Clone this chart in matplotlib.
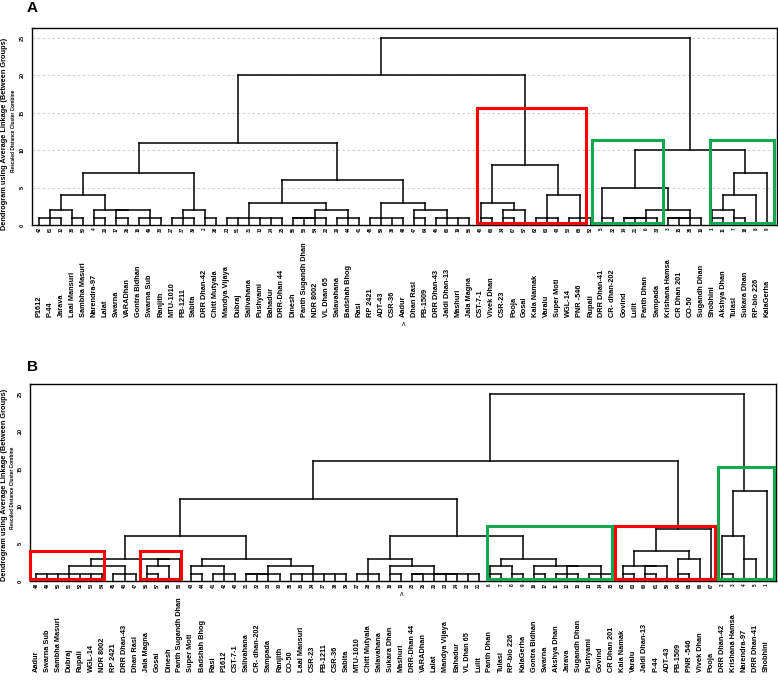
import matplotlib
matplotlib.use('Agg')
import matplotlib.pyplot as plt
from matplotlib.patches import Rectangle

plt.rcParams['font.family'] = ['Liberation Sans', 'DejaVu Sans']

# leaf order of each dendrogram (left to right)
a_labels = ['P1612', 'P-44', 'Jarava', 'Laal Mansuri', 'Sambha Masuri', 'Narendra-97', 'Lalat',
            'Swarna', 'VARADhan', 'Gontra Bidhan', 'Swarna Sub', 'Ranjith', 'MTU-1010', 'PB-1211',
            'Sabita', 'DRR Dhan-42', 'Chitt Mutyala', 'Mandya Vijaya', 'Dubraj', 'Salivahana',
            'Pushyami', 'Bahadur', 'DRR-Dhan 44', 'Dinesh', 'Panth Sugandh Dhan', 'NDR 8002',
            'VL Dhan 65', 'Salavahana', 'Badshah Bhog', 'Rasi', 'RP 2421', 'ADT-43', 'CSR-36',
            'Aadur', 'Dhan Rasi', 'PB-1509', 'DRR Dhan-43', 'Jaldi Dhan-13', 'Mashuri', 'Jala Magna',
            'CST-7-1', 'Vivek Dhan', 'CSR-23', 'Pooja', 'Gosai', 'Kala Namak', 'Varalu', 'Super Moti',
            'WGL-14', 'PNR -546', 'Rupali', 'DRR Dhan-41', 'CR- dhan-202', 'Govind', 'Lulit',
            'Panth Dhan', 'Sampada', 'Krishana Hamsa', 'CR Dhan 201', 'CO-50', 'Sugandh Dhan',
            'Shobhini', 'Akshya Dhan', 'Tulasi', 'Sukara Dhan', 'RP-bio 226', 'KalaGerha']

b_labels = ['Aadur', 'Swarna Sub', 'Sambha Masuri', 'Dubraj', 'Rupali', 'WGL-14', 'NDR 8002',
            'RP 2421', 'DRR Dhan-43', 'Dhan Rasi', 'Jala Magna', 'Gosai', 'Dinesh',
            'Panth Sugandh Dhan', 'Super Moti', 'Badshah Bhog', 'Rasi', 'P1612', 'CST-7-1',
            'Salivahana', 'CR- dhan-202', 'Sampada', 'Ranjith', 'CO-50', 'Laal Mansuri', 'CSR-23',
            'PB-1211', 'CSR-36', 'Sabita', 'MTU-1010', 'Chitt Mutyala', 'Salavahana', 'Sukara Dhan',
            'Mashuri', 'DRR-Dhan 44', 'VARADhan', 'Lalat', 'Mandya Vijaya', 'Bahadur', 'VL Dhan 65',
            'Lulit', 'Panth Dhan', 'Tulasi', 'RP-bio 226', 'KalaGerha', 'Gontra Bidhan', 'Swarna',
            'Akshya Dhan', 'Jarava', 'Sugandh Dhan', 'Pushyami', 'Govind', 'CR Dhan 201',
            'Kala Namak', 'Varalu', 'Jaldi Dhan-13', 'P-44', 'ADT-43', 'PB-1509', 'PNR -546',
            'Vivek Dhan', 'Pooja', 'DRR Dhan-42', 'Krishana Hamsa', 'Narendra-97', 'DRR Dhan-41',
            'Shobhini']

case_no = {'P1612': 42, 'P-44': 61, 'Jarava': 12, 'Laal Mansuri': 36, 'Sambha Masuri': 50,
           'Narendra-97': 4, 'Lalat': 20, 'Swarna': 17, 'VARADhan': 26, 'Gontra Bidhan': 16,
           'Swarna Sub': 49, 'Ranjith': 30, 'MTU-1010': 27, 'PB-1211': 37, 'Sabita': 39,
           'DRR Dhan-42': 2, 'Chitt Mutyala': 28, 'Mandya Vijaya': 23, 'Dubraj': 51,
           'Salivahana': 31, 'Pushyami': 13, 'Bahadur': 24, 'DRR-Dhan 44': 25, 'Dinesh': 55,
           'Panth Sugandh Dhan': 58, 'NDR 8002': 54, 'VL Dhan 65': 22, 'Salavahana': 29,
           'Badshah Bhog': 44, 'Rasi': 41, 'RP 2421': 45, 'ADT-43': 59, 'CSR-36': 38, 'Aadur': 48,
           'Dhan Rasi': 47, 'PB-1509': 64, 'DRR Dhan-43': 46, 'Jaldi Dhan-13': 60, 'Mashuri': 19,
           'Jala Magna': 56, 'CST-7-1': 40, 'Vivek Dhan': 66, 'CSR-23': 34, 'Pooja': 67,
           'Gosai': 57, 'Kala Namak': 62, 'Varalu': 63, 'Super Moti': 43, 'WGL-14': 53,
           'PNR -546': 65, 'Rupali': 52, 'DRR Dhan-41': 5, 'CR- dhan-202': 32, 'Govind': 14,
           'Lulit': 21, 'Panth Dhan': 6, 'Sampada': 33, 'Krishana Hamsa': 3,
           'CR Dhan 201': 15, 'CO-50': 35, 'Sugandh Dhan': 10, 'Shobhini': 1, 'Akshya Dhan': 11,
           'Tulasi': 7, 'Sukara Dhan': 18, 'RP-bio 226': 8, 'KalaGerha': 9}

# merges: [rescaled distance, child, child, ...]; ints are leaf positions
a_left = [7, [4, [2, [1, 0, 1, 2], [1, 3, 4]], [2, [1, 5, 6], [2, [1, 7, 8], [1, 9, 10, 11]]]],
          [2, [1, 12, 13, 14], [1, 15, 16]]]
a_mid = [6, [3, [1, 17, 18, 19, 20, 21, 22], [2, [1, [1, [1, 23, 24], 25], 26], [1, 27, 28, 29]]],
         [3, [1, 30, 31, 32, 33], [2, [1, 34, 35], [1, 36, 37, 38, 39]]]]
a_red = [8, [3, [1, 40, 41], [2, [1, 42, 43], 44]], [4, [1, 45, 46, 47], [1, 48, 49, 50]]]
a_green = [10, [5, [1, 51, 52], [2, [1, [1, [1, 53, 54], 55], 56], [1, [1, [1, 57, 58], 59], 60]]],
           [7, [4, [2, [1, 61, 62], [1, 63, 64]], 65], 66]]
tree_a = [25, [20, [11, a_left, a_mid], a_red], a_green]

b_red = [3, [2, [1, 0, 1, 2, 3, 4, 5, 6], [1, 7, 8, 9]], [3, [2, [1, 10, 11], 12], 13]]
b_mid = [3, [2, [1, 14, 15], [1, 16, 17, 18]],
         [2, [1, [1, [1, 19, 20], 21], 22], [1, 23, 24, 25, 26, 27, 28]]]
b_m1 = [3, [1, 29, 30, 31], [2, [1, 32, 33], [1, [1, 34, 35], [1, 36, 37, 38, 39, 40]]]]
b_green1 = [3, [2, [1, 41, 42], [1, 43, 44]], [2, [1, 45, 46], [2, [1, 47, 48, 49], [1, 50, 51, 52]]]]
b_red2 = [7, [4, [2, [1, 53, 54], [2, [1, 55, 56], 57]], [3, [1, 58, 59], 60]], 61]
b_green2 = [12, [6, [1, 62, 63], [3, 64, 65]], 66]
tree_b = [25, [16, [11, [6, b_red, b_mid], [6, b_m1, b_green1]], b_red2], b_green2]

# highlight boxes: (x0, x1, top, colour) in leaf units / distance
red = '#ff0000'
green = '#12a94e'
a_boxes = [(39.65, 49.6, 15.6, red), (50.1, 56.5, 11.4, green), (60.8, 66.6, 11.4, green)]
b_boxes = [(-0.5, 6.15, 4.0, red), (9.4, 13.07, 4.0, red), (40.7, 52.0, 7.4, green),
           (52.3, 61.3, 7.4, red), (61.6, 66.7, 15.2, green)]

title = 'Dendrogram using Average Linkage (Between Groups)'
subtitle = 'Rescaled Distance Cluster Combine'

W, H = 778, 682
fig = plt.figure(figsize=(W / 100, H / 100), dpi=100)


def draw_tree(ax, node):
    if isinstance(node, int):
        return node, 0.0
    h = node[0]
    kids = [draw_tree(ax, c) for c in node[1:]]
    xs = [k[0] for k in kids]
    for x, y in kids:
        ax.plot([x, x], [y, h], color='black', lw=1.1, solid_capstyle='projecting')
    ax.plot([min(xs), max(xs)], [h, h], color='black', lw=1.1, solid_capstyle='projecting')
    return (xs[0] + xs[-1]) // 2, h


def panel(left, right, top, bottom, xlim, tree, labels, boxes, grid, lab_off, caret):
    ax = fig.add_axes([left / W, 1 - bottom / H, (right - left) / W, (bottom - top) / H])
    draw_tree(ax, tree)
    ax.set_xlim(*xlim)
    ax.set_ylim(0, 26.3)
    ax.set_xticks([])
    ax.set_yticks([0, 5, 10, 15, 20, 25])
    ax.tick_params(axis='y', length=0, pad=5, labelsize=4, labelrotation=90)
    for t in ax.get_yticklabels():
        t.set_fontweight('bold')
        t.set_va('center')
    for s in ax.spines.values():
        s.set_linewidth(1.0)
    if grid:
        for v in [5, 10, 15, 20, 25]:
            ax.axhline(v, color='#c4c4c4', lw=0.6, ls=(0, (3, 3)), zorder=0)
    for x0, x1, top_v, col in boxes:
        ax.add_patch(Rectangle((x0, 0.25), x1 - x0, top_v - 0.25, fill=False,
                               edgecolor=col, lw=2.2, zorder=5, clip_on=False))
    for k, name in enumerate(labels):
        ax.annotate(str(case_no[name]), xy=(k, 0), xycoords=('data', 'axes fraction'),
                    xytext=(0, -1.5), textcoords='offset points', rotation=90,
                    ha='center', va='top', fontsize=3.3, fontweight='bold')
        ax.annotate(name, xy=(k, 0), xycoords=('data', 'axes fraction'),
                    xytext=(0, lab_off), textcoords='offset points', rotation=90,
                    ha='center', va='bottom', fontsize=5.3, fontweight='bold')
    ax.annotate('\u028c', xy=(33, 0), xycoords=('data', 'axes fraction'),
                xytext=(0, caret), textcoords='offset points',
                ha='center', va='center', fontsize=5)
    return ax


panel(32, 777, 28, 225, (-0.66, 66.88), tree_a, a_labels, a_boxes, True, -66, -72)
panel(30, 776, 384, 581, (-0.54, 66.85), tree_b, b_labels, b_boxes, False, -65.5, -10)

fig.text(32 / W, 1 - 8 / H, 'A', fontsize=11, fontweight='bold', ha='center', va='center')
fig.text(33 / W, 1 - 367 / H, 'B', fontsize=11, fontweight='bold', ha='center', va='center')

fig.text(5 / W, 1 - 134 / H, title, rotation=90, fontsize=5.3, fontweight='bold',
         ha='center', va='center')
fig.text(14 / W, 1 - 131 / H, subtitle, rotation=90, fontsize=3.4, fontweight='bold',
         ha='center', va='center')
fig.text(5 / W, 1 - 485 / H, title, rotation=90, fontsize=5.3, fontweight='bold',
         ha='center', va='center')
fig.text(13 / W, 1 - 488 / H, subtitle, rotation=90, fontsize=3.4, fontweight='bold',
         ha='center', va='center')

fig.savefig('out.png', dpi=100)
